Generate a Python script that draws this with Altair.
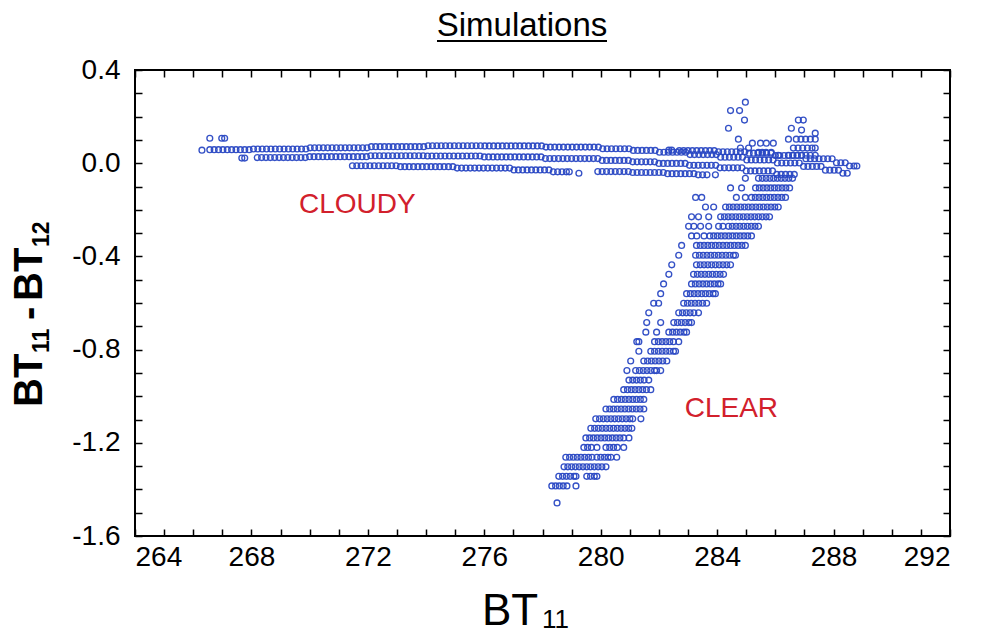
import altair as alt
import pandas as pd

# ---------------- data ----------------
# Each entry: (BT11 - BT12 value, [BT11 values of the circles on that row])
CLOUD_ROW_1 = [
    (0.056, [266.30]),
    (0.058, [266.57, 266.72, 266.87, 267.02, 267.17, 267.32, 267.47, 267.62, 267.77, 267.92]),
    (0.061, [268.07, 268.22, 268.37, 268.52, 268.67, 268.82, 268.97, 269.12, 269.27, 269.42, 269.57, 269.72, 269.87]),
    (0.066, [270.02, 270.17, 270.32, 270.47, 270.62, 270.77, 270.92, 271.07, 271.22, 271.37, 271.52, 271.67, 271.82, 271.97]),
    (0.071, [272.12, 272.27, 272.42, 272.57, 272.72, 272.87, 273.02, 273.17, 273.32, 273.47, 273.62, 273.77, 273.92]),
    (0.075, [274.07, 274.22, 274.37, 274.52, 274.67, 274.82, 274.97, 275.12, 275.27, 275.42, 275.57, 275.72, 275.87]),
    (0.074, [276.02, 276.17, 276.32, 276.47, 276.62, 276.77, 276.92, 277.07, 277.22, 277.37, 277.52, 277.67, 277.82, 277.97]),
    (0.069, [278.12, 278.27, 278.42, 278.57, 278.72, 278.87, 279.02, 279.17, 279.32, 279.47, 279.62, 279.77, 279.92]),
    (0.062, [280.07, 280.22, 280.37, 280.52, 280.67, 280.82, 280.97]),
    (0.055, [281.12, 281.27, 281.42, 281.57, 281.72, 281.87]),
    (0.047, [282.02, 282.17, 282.32, 282.47, 282.62, 282.77, 282.92]),
    (0.037, [283.07, 283.22, 283.37, 283.52, 283.67, 283.82, 283.97]),
    (0.026, [284.12, 284.27, 284.42, 284.57, 284.72, 284.87]),
    (0.014, [285.02, 285.17, 285.32, 285.47, 285.62, 285.77, 285.92]),
    (0.001, [286.07, 286.22, 286.37, 286.52, 286.67, 286.82]),
    (-0.014, [286.97, 287.12, 287.27, 287.42, 287.57]),
    (-0.030, [287.72, 287.87, 288.02, 288.17]),
    (-0.043, [288.32, 288.47]),
]
CLOUD_ROW_2 = [
    (0.022, [267.67, 267.77]),
    (0.024, [268.20, 268.35, 268.50, 268.65, 268.80, 268.95, 269.10, 269.25, 269.40, 269.55, 269.70, 269.85]),
    (0.028, [270.00, 270.15, 270.30, 270.45, 270.60, 270.75, 270.90, 271.05, 271.20, 271.35, 271.50, 271.65, 271.80, 271.95]),
    (0.032, [272.10, 272.25, 272.40, 272.55, 272.70, 272.85, 273.00, 273.15, 273.30, 273.45, 273.60, 273.75, 273.90]),
    (0.031, [274.05, 274.20, 274.35, 274.50, 274.65, 274.80, 274.95, 275.10, 275.25, 275.40, 275.55, 275.70, 275.85]),
    (0.027, [276.00, 276.15, 276.30, 276.45, 276.60, 276.75, 276.90, 277.05, 277.20, 277.35, 277.50, 277.65, 277.80, 277.95]),
    (0.020, [278.10, 278.25, 278.40, 278.55, 278.70, 278.85, 279.00, 279.15, 279.30, 279.45, 279.60, 279.75, 279.90]),
    (0.012, [280.05, 280.20, 280.35, 280.50, 280.65, 280.80, 280.95]),
    (0.006, [281.10, 281.25, 281.40, 281.55, 281.70, 281.85]),
    (-0.001, [282.00, 282.15, 282.30, 282.45, 282.60, 282.75, 282.90]),
    (-0.009, [283.05, 283.20, 283.35, 283.50, 283.65, 283.80, 283.95]),
    (-0.020, [284.10, 284.25, 284.40, 284.55, 284.70, 284.85]),
    (-0.033, [285.00, 285.15, 285.30, 285.45, 285.60, 285.75, 285.90]),
    (-0.048, [286.05, 286.20, 286.35, 286.50, 286.65]),
]
CLOUD_ROW_3 = [
    (-0.011, [271.47, 271.62, 271.77, 271.92, 272.07, 272.22, 272.37, 272.52, 272.67, 272.82, 272.97]),
    (-0.015, [273.12, 273.27, 273.42, 273.57, 273.72, 273.87, 274.02, 274.17, 274.32, 274.47, 274.62, 274.77, 274.92]),
    (-0.021, [275.07, 275.22, 275.37, 275.52, 275.67, 275.82, 275.97, 276.12, 276.27, 276.42, 276.57, 276.72, 276.87]),
    (-0.029, [277.02, 277.17, 277.32, 277.47, 277.62, 277.77, 277.92, 278.07, 278.22]),
    (-0.037, [278.37, 278.52, 278.67, 278.82, 278.92]),
    (-0.043, [279.25]),
    (-0.036, [279.90, 280.05, 280.20, 280.35, 280.50, 280.65, 280.80, 280.95]),
    (-0.040, [281.10, 281.25, 281.40, 281.55, 281.70, 281.85, 282.00, 282.15]),
    (-0.045, [282.30, 282.45, 282.60, 282.75, 282.90, 283.05, 283.20]),
    (-0.050, [283.35, 283.50, 283.65, 283.94]),
]
CLOUD_ROW_A = [
    (0.107, [266.57, 266.98, 267.08]),
    (0.056, [282.34, 282.44]),
    (0.054, [282.70, 282.85, 283.00, 283.15, 283.30, 283.45, 283.60, 283.75, 283.90]),
    (0.049, [284.05, 284.20, 284.35, 284.50, 284.65, 284.80, 284.95]),
    (0.043, [285.10, 285.25, 285.40, 285.55, 285.70, 285.85]),
    (0.033, [286.00, 286.15, 286.30, 286.45, 286.60, 286.75, 286.90]),
    (0.019, [287.05, 287.20, 287.35, 287.50, 287.65, 287.80, 287.95]),
    (0.002, [288.10, 288.25, 288.40]),
    (-0.012, [288.55, 288.70, 288.80]),
]
CLEAR_ROWS = [
    (0.262, [284.97]),
    (0.226, [284.46, 284.77]),
    (0.185, [284.94, 286.79, 286.96]),
    (0.150, [284.39, 286.55]),
    (0.142, [286.90]),
    (0.129, [287.37]),
    (0.103, [284.73, 286.45, 286.72, 286.88, 287.04, 287.20, 287.37]),
    (0.086, [285.21, 285.49, 285.69, 285.93]),
    (0.065, [284.80, 285.08, 286.62, 286.78, 286.94, 287.10, 287.26, 287.37]),
    (0.047, [285.42, 285.55, 285.68, 285.86]),
    (0.034, [286.10, 286.45, 286.60, 286.75, 286.90, 287.05, 287.20, 287.37]),
    (-0.065, [284.97, 285.42, 285.55, 285.68, 285.81, 285.94, 286.07, 286.20, 286.33, 286.46, 286.59]),
    (-0.106, [284.46, 284.84, 285.32, 285.45, 285.58, 285.71, 285.84, 285.97, 286.10, 286.23, 286.36, 286.49]),
    (-0.147, [283.26, 283.47, 284.66, 284.97, 285.18, 285.31, 285.44, 285.57, 285.70, 285.83, 285.96, 286.09, 286.22, 286.35]),
    (-0.188, [283.60, 283.88, 284.29, 284.42, 284.55, 284.68, 284.81, 284.94, 285.07, 285.20, 285.33, 285.46, 285.59, 285.72, 285.85, 285.98, 286.10]),
    (-0.230, [283.12, 283.36, 283.71, 284.12, 284.25, 284.38, 284.51, 284.64, 284.77, 284.90, 285.03, 285.16, 285.29, 285.42, 285.55, 285.68, 285.80]),
    (-0.271, [283.02, 283.20, 283.43, 283.71, 284.05, 284.20, 284.39, 284.52, 284.65, 284.78, 284.91, 285.04, 285.17, 285.30, 285.42]),
    (-0.312, [283.12, 283.30, 283.55, 283.75, 283.88, 284.01, 284.14, 284.27, 284.40, 284.53, 284.66, 284.79, 284.92, 285.05, 285.18]),
    (-0.353, [282.78, 283.29, 283.42, 283.55, 283.68, 283.81, 283.94, 284.07, 284.20, 284.33, 284.46, 284.59, 284.72, 284.85, 284.97]),
    (-0.395, [282.68, 283.26, 283.39, 283.52, 283.65, 283.78, 283.91, 284.04, 284.17, 284.30, 284.43, 284.56, 284.63]),
    (-0.436, [282.44, 283.29, 283.42, 283.55, 283.68, 283.81, 283.94, 284.07, 284.20, 284.33, 284.46]),
    (-0.477, [282.34, 283.19, 283.32, 283.45, 283.58, 283.71, 283.84, 283.97, 284.10, 284.22]),
    (-0.518, [282.16, 283.12, 283.25, 283.38, 283.51, 283.64, 283.77, 283.90, 284.03, 284.12]),
    (-0.560, [282.06, 282.95, 283.08, 283.21, 283.34, 283.47, 283.60, 283.73, 283.86, 283.94]),
    (-0.601, [281.82, 281.99, 282.85, 282.98, 283.11, 283.24, 283.37, 283.50, 283.64]),
    (-0.642, [281.65, 282.68, 282.81, 282.94, 283.07, 283.20, 283.36]),
    (-0.684, [281.58, 282.06, 282.51, 282.64, 282.77, 282.90, 283.03, 283.12]),
    (-0.725, [281.55, 281.92, 282.34, 282.47, 282.60, 282.73, 282.86, 282.95]),
    (-0.766, [281.24, 281.31, 281.85, 281.98, 282.11, 282.24, 282.37, 282.50, 282.68]),
    (-0.807, [281.31, 281.72, 281.85, 281.98, 282.11, 282.24, 282.37, 282.50, 282.57]),
    (-0.849, [281.03, 281.48, 281.61, 281.74, 281.87, 282.00, 282.13, 282.27]),
    (-0.890, [280.90, 281.20, 281.33, 281.46, 281.59, 281.72, 281.85, 281.92, 282.06]),
    (-0.931, [280.97, 281.10, 281.23, 281.36, 281.49, 281.65]),
    (-0.972, [280.79, 280.92, 281.05, 281.18, 281.31, 281.44, 281.57, 281.72]),
    (-1.014, [280.45, 280.58, 280.71, 280.84, 280.97, 281.10, 281.23, 281.36, 281.48]),
    (-1.055, [280.18, 280.31, 280.44, 280.57, 280.70, 280.83, 280.96, 281.09, 281.22, 281.35, 281.48]),
    (-1.097, [279.83, 279.96, 280.09, 280.22, 280.35, 280.48, 280.61, 280.74, 280.87, 281.00, 281.10, 281.38]),
    (-1.138, [279.66, 279.79, 279.92, 280.05, 280.18, 280.31, 280.44, 280.57, 280.70, 280.83, 280.96, 281.07]),
    (-1.179, [279.49, 279.62, 279.75, 279.88, 280.01, 280.14, 280.27, 280.40, 280.53, 280.66, 280.79, 280.97]),
    (-1.220, [279.42, 279.55, 279.68, 279.87, 280.18, 280.31, 280.44, 280.57, 280.79]),
    (-1.262, [278.80, 278.93, 279.06, 279.19, 279.32, 279.45, 279.58, 279.70, 279.87, 280.00, 280.13, 280.25, 280.35, 280.55]),
    (-1.303, [278.74, 278.87, 279.00, 279.13, 279.26, 279.39, 279.52, 279.65, 279.78, 279.91, 280.04, 280.18]),
    (-1.344, [278.56, 278.69, 278.82, 278.95, 279.08, 279.15, 279.52, 279.65, 279.78, 279.87]),
    (-1.385, [278.32, 278.45, 278.58, 278.71, 278.84, 279.15]),
    (-1.458, [278.50]),
]

ANNOT_TEXT = ["CLOUDY", "CLEAR"]
ANNOT_X = [271.64, 284.49]
ANNOT_Y = [-0.18, -1.053]

X_LABELS = [264, 268, 272, 276, 280, 284, 288, 292]
X_TICKS = [264, 265, 266, 267, 268, 269, 270, 271, 272, 273, 274, 275, 276, 277, 278,
           279, 280, 281, 282, 283, 284, 285, 286, 287, 288, 289, 290, 291, 292]
Y_LABELS = [-1.6, -1.2, -0.8, -0.4, 0.0, 0.4]
Y_TICKS = [-1.6, -1.5, -1.4, -1.3, -1.2, -1.1, -1.0, -0.9, -0.8, -0.7, -0.6, -0.5,
           -0.4, -0.3, -0.2, -0.1, 0.0, 0.1, 0.2, 0.3, 0.4]

# ---------------- build table ----------------
records = []
for segs in (CLOUD_ROW_1, CLOUD_ROW_2, CLOUD_ROW_3, CLOUD_ROW_A, CLEAR_ROWS):
    for yv, xs in segs:
        for xv in xs:
            records.append({"bt11": xv, "diff": yv})
df = pd.DataFrame(records)
ann = pd.DataFrame({"label": ANNOT_TEXT, "bt11": ANNOT_X, "diff": ANNOT_Y})

W, H = 815, 466
FONT = "Liberation Sans"
xscale = alt.Scale(domain=[264, 292], nice=False, zero=False)
yscale = alt.Scale(domain=[-1.6, 0.4], nice=False, zero=False)

label_expr = "replace(datum.label, '\u2212', '-')"

points = alt.Chart(df).mark_point(
    shape="circle", filled=False, size=34, strokeWidth=1.35, color="#2a48c4", opacity=0.95
).encode(
    x=alt.X("bt11:Q", scale=xscale,
            axis=alt.Axis(orient="bottom", values=X_LABELS, format="d", ticks=False, domain=False,
                          grid=False, labelFontSize=28, labelPadding=7, labelFont=FONT,
                          labelColor="black", title=None)),
    y=alt.Y("diff:Q", scale=yscale,
            axis=alt.Axis(orient="left", values=Y_LABELS, format=".1f", ticks=False, domain=False,
                          grid=False, labelFontSize=28, labelPadding=15, labelFont=FONT,
                          labelColor="black", labelExpr=label_expr, title=None)),
)

tick_kw = dict(labels=False, domain=False, grid=False, ticks=True, tickSize=7,
               tickWidth=1.5, tickColor="black", title=None)

ticks_a = alt.Chart(df).mark_point(opacity=0).encode(
    x=alt.X("bt11:Q", scale=xscale, axis=alt.Axis(orient="top", offset=-H, values=X_TICKS, **tick_kw)),
    y=alt.Y("diff:Q", scale=yscale, axis=alt.Axis(orient="right", offset=-W, values=Y_TICKS, **tick_kw)),
)
ticks_b = alt.Chart(df).mark_point(opacity=0).encode(
    x=alt.X("bt11:Q", scale=xscale, axis=alt.Axis(orient="bottom", offset=-H, values=X_TICKS, **tick_kw)),
    y=alt.Y("diff:Q", scale=yscale, axis=alt.Axis(orient="left", offset=-W, values=Y_TICKS, **tick_kw)),
)

annot = alt.Chart(ann).mark_text(
    font=FONT, fontSize=28, color="#d2202c", align="center", baseline="middle"
).encode(
    x=alt.X("bt11:Q", scale=xscale, axis=None),
    y=alt.Y("diff:Q", scale=yscale, axis=None),
    text="label:N",
)

def txt(s, x, y, size, bold=False, angle=0, align="left", baseline="alphabetic"):
    kw = dict(font=FONT, fontSize=size, color="black", align=align, baseline=baseline)
    if bold:
        kw["fontWeight"] = "bold"
    if angle:
        kw["angle"] = angle
    return alt.Chart(pd.DataFrame({"t": [s]})).mark_text(**kw).encode(
        x=alt.value(x), y=alt.value(y), text="t:N")

title = txt("Simulations", 387, -34, 33, align="center")
underline = alt.Chart(pd.DataFrame({"t": [0]})).mark_rule(color="black", strokeWidth=2).encode(
    x=alt.value(302), x2=alt.value(472), y=alt.value(-29))

xt1 = txt("BT", 347, 555, 44)
xt2 = txt("11", 407, 558, 26)

yt1 = txt("BT", -93, 337, 40, bold=True, angle=270)
yt2 = txt("11", -86, 283, 23, bold=True, angle=270)
yt3 = txt("-", -93, 250, 40, bold=True, angle=270)
yt4 = txt("BT", -93, 231, 40, bold=True, angle=270)
yt5 = txt("12", -86, 177, 23, bold=True, angle=270)

chart = alt.layer(
    points, ticks_a, ticks_b, annot, title, underline, xt1, xt2, yt1, yt2, yt3, yt4, yt5
).resolve_scale(x="independent", y="independent").resolve_axis(x="independent", y="independent").properties(
    width=W, height=H,
    autosize=alt.AutoSizeParams(type="none"),
    padding={"left": 135, "top": 70, "right": 31, "bottom": 97},
    background="white",
).configure_view(stroke="black", strokeWidth=2)

chart.save("out.html", embed_options={"renderer": "svg", "actions": False})
